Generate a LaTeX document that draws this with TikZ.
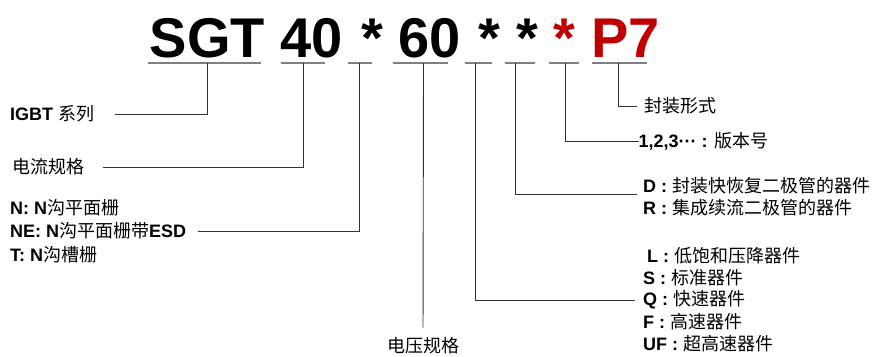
\documentclass[tikz,border=0pt]{standalone}
\usepackage{fontspec}
\setmainfont{Liberation Sans}
\newfontfamily\cjk{Noto Sans CJK SC}
\usepackage{xcolor}
\usepackage{tikz}
\usetikzlibrary{positioning}
\definecolor{codered}{HTML}{C00000}
\newcommand{\zh}[1]{{\cjk #1}}

\begin{document}
\begin{tikzpicture}[x=1pt,y=-1pt,
  code/.style={font=\fontsize{56}{60}\selectfont\bfseries,inner sep=0pt,anchor=base west},
  uline/.style={draw=black!50,line width=1.1pt},
  conn/.style={draw=black!80,line width=0.9pt},
  lbl/.style={font=\fontsize{18}{20}\selectfont,inner sep=0pt,anchor=west}]
    \useasboundingbox (0,0) rectangle (882,356);
    % part number, piece by piece
    \node[code] (sgt) at (149.5,57) {SGT};
    \node[code] (cur) at (280.5,57) {40};
    \node[code] (astA) at (361,57) {*};
    \node[code] (volt) at (398,57) {60};
    \node[code] (astB) at (478.5,57) {*};
    \node[code] (astC) at (516,57) {*};
    \node[code,codered] (astD) at (553.5,57) {*};
    \node[code,codered] (pkg) at (591,57) {P7};

    % underlines, with the tick point of each one
    \draw[uline] (148,63) -- (261,63);   \coordinate (tSgt) at (207,63);
    \draw[uline] (281,63) -- (325,63);   \coordinate (tCur) at (303,63);
    \draw[uline] (348,63) -- (372,63);   \coordinate (tAstA) at (359,63);
    \draw[uline] (393,63) -- (448,63);   \coordinate (tVolt) at (423.5,63);
    \draw[uline] (464.5,63) -- (492,63); \coordinate (tAstB) at (475,63);
    \draw[uline] (505,63) -- (535,63);   \coordinate (tAstC) at (515.5,63);
    \draw[uline] (549,63) -- (579,63);   \coordinate (tAstD) at (565,63);
    \draw[uline] (592,63) -- (647,63);   \coordinate (tPkg) at (618.5,63);

    % left side labels
    \node[lbl] (igbt) at (10,114) {\textbf{IGBT} \zh{系列}};
    \node[lbl] (curLbl) at (12,167) {\zh{电流规格}};
    \node[lbl] (gateN) at (10,208) {\textbf{N: N}\zh{沟平面栅}};
    \node[lbl] (gateNE) at (10,231) {\textbf{NE: N}\zh{沟平面栅带}\textbf{ESD}};
    \node[lbl] (gateT) at (10,255) {\textbf{T: N}\zh{沟槽栅}};
    \node[lbl,anchor=center] (voltLbl) at (423,346) {\zh{电压规格}};

    % right side labels
    \node[lbl] (pkgLbl) at (644,106) {\zh{封装形式}};
    \node[lbl] (verLbl) at (638.5,141) {\textbf{1,2,3···} \textbf{:} \zh{版本号}};
    \node[lbl] (diodeD) at (643,186) {\textbf{D :} \zh{封装快恢复二极管的器件}};
    \node[lbl] (diodeR) at (643,208) {\textbf{R :} \zh{集成续流二极管的器件}};
    \node[lbl] (spdL) at (647,256) {\textbf{L :} \zh{低饱和压降器件}};
    \node[lbl] (spdS) at (643,278) {\textbf{S :} \zh{标准器件}};
    \node[lbl] (spdQ) at (643,300) {\textbf{Q :} \zh{快速器件}};
    \node[lbl] (spdF) at (643,322) {\textbf{F :} \zh{高速器件}};
    \node[lbl] (spdUF) at (643,344) {\textbf{UF :} \zh{超高速器件}};

    % leader lines
    \draw[conn] (tSgt) |- ([xshift=21pt]igbt.east);
    \draw[conn] (tCur) |- ([xshift=19pt]curLbl.east);
    \draw[conn] (tAstA) |- ([xshift=12pt]gateNE.east);
    \draw[conn,shorten >=10pt] (tVolt) -- (voltLbl.north);
    \draw[conn] (tAstB) |- ([xshift=-8pt]spdQ.west);
    \draw[conn] (tAstC) |- ([xshift=-6pt,yshift=-8pt]diodeD.west);
    \draw[conn] (tAstD) |- (verLbl.west);
    \draw[conn] (tPkg) |- ([xshift=-7pt]pkgLbl.west);
\end{tikzpicture}
\end{document}
